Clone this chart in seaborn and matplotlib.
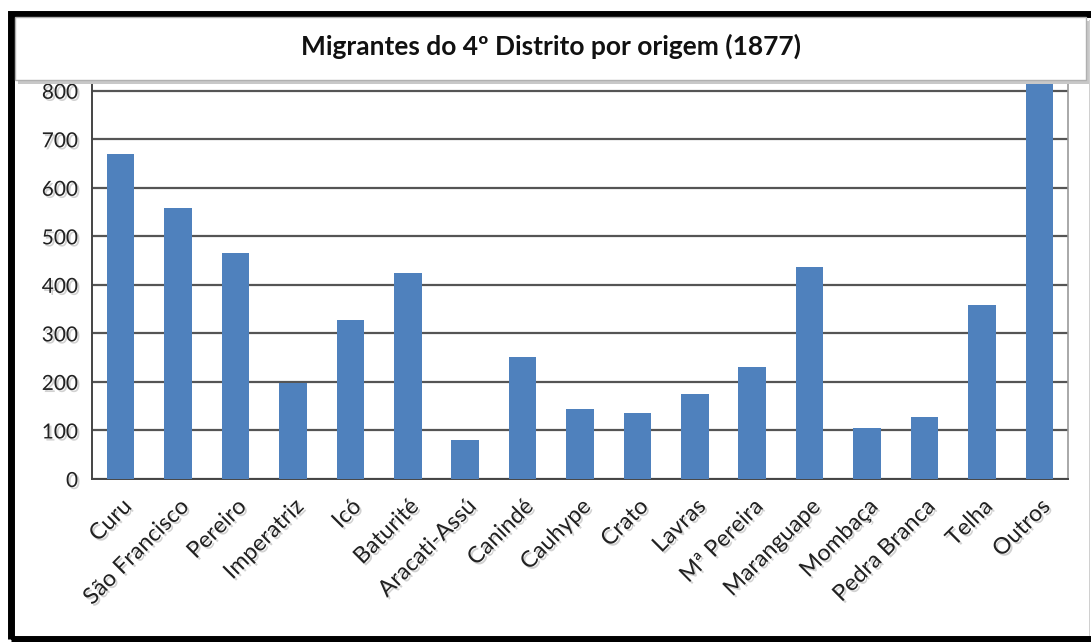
import matplotlib
matplotlib.use("Agg")
import matplotlib.pyplot as plt
import matplotlib.patches as mpatches
import matplotlib.patheffects as pe
import numpy as np
import pandas as pd
import seaborn as sns

# dados
origens = ["Curu", "São Francisco", "Pereiro", "Imperatriz", "Icó", "Baturité",
           "Aracati-Assú", "Canindé", "Cauhype", "Crato", "Lavras", "Mª Pereira",
           "Maranguape", "Mombaça", "Pedra Branca", "Telha", "Outros"]
migrantes = [670, 559, 466, 198, 328, 425, 80, 252, 144, 136, 175, 231,
             437, 105, 128, 359, 816]
y_ticks = [0, 100, 200, 300, 400, 500, 600, 700, 800]
titulo = "Migrantes do 4º Distrito por origem (1877)"

sns.set_style("white")
plt.rcParams["font.family"] = ["Lato", "DejaVu Sans"]

W, H = 1091, 642
fig = plt.figure(figsize=(W / 100, H / 100), dpi=100)

sombra = [pe.withSimplePatchShadow(offset=(1.5, -1.5), shadow_rgbFace="#999999", alpha=0.45)]


def fx(px):
    return px / W


def fy(py):
    return 1 - py / H


def caixa(x0, y0, x1, y1, **kw):
    # retângulo em pixels da imagem (y para baixo)
    r = mpatches.Rectangle((fx(x0), fy(y1)), fx(x1) - fx(x0), fy(y0) - fy(y1),
                           transform=fig.transFigure, **kw)
    fig.patches.append(r)
    return r


# moldura preta externa (lado direito cortado na imagem original)
caixa(10.5, 13.5, 1110, 638.5, fill=False, edgecolor="black", linewidth=5, zorder=0)
caixa(1089, 20, 1090, 636, facecolor="#d0d0d0", edgecolor="none", zorder=0)

# sombra + caixa do título
caixa(18, 21, 1089, 84, facecolor="#c8c8c8", edgecolor="none", zorder=1)
caixa(15, 17, 1086, 80, facecolor="white", edgecolor="#b0b0b0", linewidth=1.0, zorder=2)
fig.text(fx(551), fy(46), titulo, ha="center", va="center",
         fontsize=19, fontweight="bold", color="#111111")

ax = fig.add_axes([fx(92), fy(479), fx(1068) - fx(92), fy(83) - fy(479)])
df = pd.DataFrame({"origem": origens, "migrantes": migrantes})
sns.barplot(data=df, x="origem", y="migrantes", color="#4F81BD", saturation=1,
            width=0.48, linewidth=0, ax=ax, zorder=3)

ax.set_ylim(0, 816)
ax.set_xlim(-0.5, len(origens) - 0.5)
ax.set_yticks(y_ticks)
ax.yaxis.grid(True, color="#555555", linewidth=1.6, zorder=0)
ax.set_axisbelow(True)
ax.set_xlabel("")
ax.set_ylabel("")

# marcas do eixo x entre as categorias (estilo Excel)
ax.set_xticks(np.arange(len(origens)))
ax.set_xticklabels(origens, rotation=45, ha="right", rotation_mode="anchor",
                   fontsize=16.5, color="#222222")
ax.set_xticks(np.arange(-0.5, len(origens)), minor=True)
ax.tick_params(axis="x", which="major", length=0, pad=12)
ax.tick_params(axis="x", which="minor", length=7, width=1.4, color="#444444")
ax.tick_params(axis="y", length=7, width=1.4, color="#444444", labelsize=15,
               labelcolor="#222222", pad=3)

for rotulo in ax.get_xticklabels() + ax.get_yticklabels():
    rotulo.set_path_effects(sombra)

for lado in ["left", "bottom"]:
    ax.spines[lado].set_color("#444444")
    ax.spines[lado].set_linewidth(1.4)
ax.spines["right"].set_color("#9a9a9a")
ax.spines["right"].set_linewidth(1.2)
ax.spines["top"].set_visible(False)

fig.savefig("out.png", dpi=100)
